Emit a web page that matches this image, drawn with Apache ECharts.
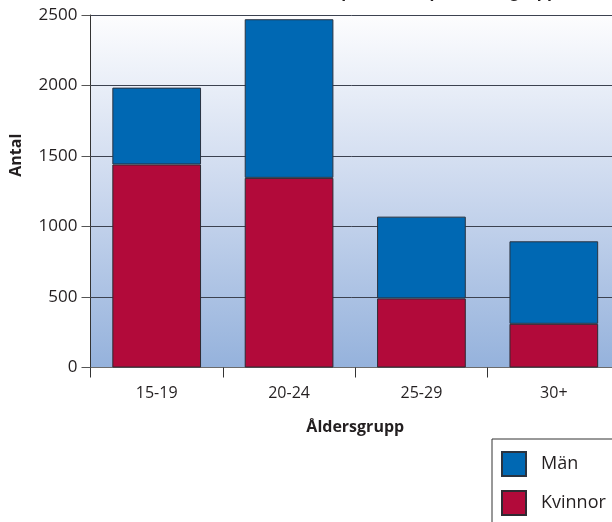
<!DOCTYPE html>
<html>
<head>
<meta charset="utf-8">
<script src="https://cdn.jsdelivr.net/npm/echarts@6/dist/echarts.min.js"></script>
<style>
  html, body { margin: 0; padding: 0; background: #ffffff; }
  #chart { width: 612px; height: 522px; }
</style>
</head>
<body>
<div id="chart"></div>
<script>
// Age groups and counts per sex
const categories = ['15-19', '20-24', '25-29', '30+'];
const kvinnor = [1440, 1345, 490, 310];
const man = [545, 1125, 580, 585];
const yTicks = { min: 0, max: 2500, interval: 500 };

const titleText = 'Antal respondenter per åldersgrupp';
const textColor = '#231f20';
const fontFamily = '"Open Sans", "Noto Sans", sans-serif';

const chart = echarts.init(document.getElementById('chart'), null, { renderer: 'canvas' });

chart.setOption({
  animation: false,
  backgroundColor: '#ffffff',
  title: {
    text: titleText,
    right: 55,
    top: -16,
    padding: 0,
    textStyle: { color: textColor, fontFamily: fontFamily, fontSize: 16, fontWeight: 'bold' }
  },
  legend: {
    data: ['Män', 'Kvinnor'],
    orient: 'vertical',
    left: 492,
    top: 439,
    width: 150,
    height: 110,
    padding: [12, 60, 20, 9],
    itemWidth: 24,
    itemHeight: 24,
    itemGap: 13,
    borderColor: '#333333',
    borderWidth: 1,
    icon: 'rect',
    textStyle: { color: textColor, fontFamily: fontFamily, fontSize: 18, padding: [0, 0, 0, 10] }
  },
  grid: {
    left: 90.5,
    right: -8,
    top: 15,
    bottom: 154.5,
    outerBoundsMode: 'none',
    show: true,
    borderWidth: 0,
    backgroundColor: new echarts.graphic.LinearGradient(0, 0, 0, 1, [
      { offset: 0, color: '#fdfdfe' },
      { offset: 0.5, color: '#cbd8ee' },
      { offset: 1, color: '#95b2dc' }
    ])
  },
  xAxis: {
    type: 'category',
    data: categories,
    name: 'Åldersgrupp',
    nameLocation: 'middle',
    nameGap: 52,
    nameTextStyle: { color: textColor, fontFamily: fontFamily, fontSize: 16, fontWeight: 'bold' },
    axisLine: { lineStyle: { color: '#6b6b6b', width: 1 } },
    axisTick: { show: true, length: 10, lineStyle: { color: '#333333' } },
    axisLabel: { color: textColor, fontFamily: fontFamily, fontSize: 16, margin: 18 }
  },
  yAxis: {
    type: 'value',
    min: yTicks.min,
    max: yTicks.max,
    interval: yTicks.interval,
    name: 'Antal',
    nameLocation: 'middle',
    nameGap: 66,
    nameRotate: 90,
    nameTextStyle: { color: textColor, fontFamily: fontFamily, fontSize: 16, fontWeight: 'bold', padding: [0, 0, 0, 72] },
    axisLine: { show: true, lineStyle: { color: '#333333', width: 1 } },
    axisTick: { show: true, length: 9, lineStyle: { color: '#555555' } },
    axisLabel: {
      color: textColor, fontFamily: fontFamily, fontSize: 17, margin: 13,
      formatter: (v) => String(v)
    },
    splitLine: { show: true, lineStyle: { color: '#3c4250', width: 1 } }
  },
  series: [
    {
      name: 'Kvinnor',
      type: 'bar',
      stack: 'total',
      barCategoryGap: '33%',
      data: kvinnor,
      itemStyle: { color: '#b20a3a', borderColor: '#2e2a32', borderWidth: 1 }
    },
    {
      name: 'Män',
      type: 'bar',
      stack: 'total',
      barCategoryGap: '33%',
      data: man,
      itemStyle: { color: '#0068b3', borderColor: '#2a3340', borderWidth: 1 }
    }
  ]
});
</script>
</body>
</html>
